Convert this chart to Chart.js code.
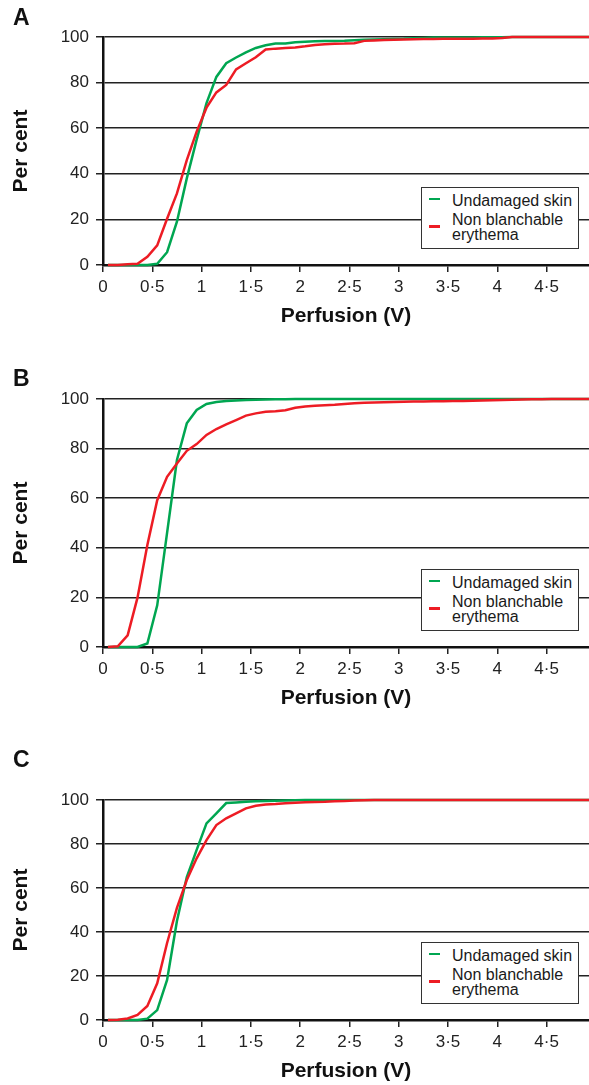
<!DOCTYPE html>
<html>
<head>
<meta charset="utf-8">
<script src="https://cdn.jsdelivr.net/npm/chart.js@4.4.0/dist/chart.umd.min.js"></script>
<style>
html,body{margin:0;padding:0;background:#fff;}
body{width:589px;height:1085px;position:relative;overflow:hidden;font-family:"Liberation Sans",Arial,Helvetica,sans-serif;}
canvas{position:absolute;left:0;}
.letter{position:absolute;left:13px;font-weight:bold;font-size:23px;line-height:23px;color:#111;}
.legend{position:absolute;left:421px;width:156px;height:60px;border:1.5px solid #333;background:#fff;}
.legend .sw{position:absolute;left:7px;width:11px;height:2.5px;}
.legend .tx{position:absolute;left:30px;font-size:16px;line-height:15px;color:#1a1a1a;white-space:nowrap;}
</style>
</head>
<body>
<div id="root"></div>
<script>
// ---------- data ----------
const xValues = [0.05,0.15,0.25,0.35,0.45,0.55,0.65,0.75,0.85,0.95,
                 1.05,1.15,1.25,1.35,1.45,1.55,1.65,1.75,1.85,1.95,
                 2.05,2.15,2.25,2.35,2.45,2.55,2.65,2.75,2.85,2.95,
                 3.05,3.15,3.25,3.35,3.45,3.55,3.65,3.75,3.85,3.95,
                 4.05,4.15,4.25,4.35,4.45,4.55,4.65,4.75,4.85,4.95];
const xTickValues = [0,0.5,1,1.5,2,2.5,3,3.5,4,4.5];
const xTickLabels = ['0','0·5','1','1·5','2','2·5','3','3·5','4','4·5'];
const yTickValues = [0,20,40,60,80,100];
const panelLetters = ['A','B','C'];
const seriesNames = ['Undamaged skin','Non blanchable erythema'];
const xTitle = 'Perfusion (V)';
const yTitle = 'Per cent';

const undamagedA = [0,0,0,0,0,0.5,5.6,19,38,55,
                    71,82.5,88.5,91,93.3,95.2,96.4,97.1,97.2,97.7,
                    97.9,98.1,98.2,98.3,98.4,98.6,98.8,98.9,99.0,99.1,
                    99.2,99.4,99.6,99.8,99.8,99.8,99.8,99.8,99.9,99.9,
                    99.9,100,100,100,100,100,100,100,100,100];
const erythemaA  = [0,0,0.3,0.5,3.6,8.6,20.3,31.4,46,58.5,
                    69,75.7,79,85.8,88.5,91.1,94.5,94.9,95.2,95.4,
                    95.9,96.5,96.8,97.0,97.1,97.3,98.3,98.5,98.7,98.8,
                    98.9,99.0,99.1,99.1,99.2,99.2,99.2,99.2,99.3,99.3,
                    99.6,100,100,100,100,100,100,100,100,100];
const undamagedB = [0,0,0,0,1.4,16.8,46,75.4,90.2,95.6,
                    98.0,98.8,99.2,99.4,99.6,99.7,99.8,99.9,99.9,100,
                    100,100,100,100,100,100,100,100,100,100,
                    100,100,100,100,100,100,100,100,100,100,
                    100,100,100,100,100,100,100,100,100,100];
const erythemaB  = [0,0.3,4.7,19.9,41.1,59.2,68.6,74.0,79.1,81.8,
                    85.5,87.9,89.8,91.5,93.3,94.2,94.9,95.1,95.5,96.5,
                    97.0,97.3,97.5,97.7,98.0,98.3,98.5,98.6,98.7,98.8,
                    98.9,99.0,99.0,99.1,99.1,99.2,99.2,99.3,99.4,99.5,
                    99.6,99.7,99.8,99.9,99.9,100,100,100,100,100];
const undamagedC = [0,0,0,0,0.6,4.5,18.2,45,65,77.3,
                    89.4,93.9,98.6,98.9,99.2,99.4,99.6,99.7,99.8,99.9,
                    100,100,100,100,100,100,100,100,100,100,
                    100,100,100,100,100,100,100,100,100,100,
                    100,100,100,100,100,100,100,100,100,100];
const erythemaC  = [0,0.1,0.7,2.3,6.4,16.7,35,51,63.6,73.5,
                    81.8,88.6,91.7,93.9,96.2,97.4,98.0,98.2,98.5,98.8,
                    99.0,99.1,99.2,99.4,99.6,99.8,99.9,100,100,100,
                    100,100,100,100,100,100,100,100,100,100,
                    100,100,100,100,100,100,100,100,100,100];

// ---------- layout / style ----------
const GREEN = '#00a651';
const RED = '#ed1c24';
const FAMILY = '"Liberation Sans", Arial, Helvetica, sans-serif';
const X_MAX = 4.93;

const panels = [
  {letter: panelLetters[0], green: undamagedA, red: erythemaA, top: 0,   padTop: 37, plotH: 228, axisH: 70, titlePB: 6, letterTop: 6},
  {letter: panelLetters[1], green: undamagedB, red: erythemaB, top: 335, padTop: 64, plotH: 248, axisH: 70, titlePB: 6, letterTop: 367},
  {letter: panelLetters[2], green: undamagedC, red: erythemaC, top: 717, padTop: 83, plotH: 220, axisH: 65, titlePB: 1, letterTop: 748}
];

const root = document.getElementById('root');

panels.forEach(p => {
  const h = p.padTop + p.plotH + p.axisH;
  const cv = document.createElement('canvas');
  cv.width = 589; cv.height = h;
  cv.style.width = '589px'; cv.style.height = h + 'px';
  cv.style.top = p.top + 'px';
  root.appendChild(cv);

  const lt = document.createElement('div');
  lt.className = 'letter';
  lt.style.top = p.letterTop + 'px';
  lt.textContent = p.letter;
  root.appendChild(lt);

  new Chart(cv, {
    type: 'line',
    data: {
      datasets: [
        {label: seriesNames[0], data: xValues.map((x, i) => ({x: x, y: p.green[i]})),
         borderColor: GREEN, backgroundColor: GREEN, borderWidth: 2.5, pointRadius: 0,
         tension: 0, fill: false, order: 1, clip: false},
        {label: seriesNames[1], data: xValues.map((x, i) => ({x: x, y: p.red[i]})),
         borderColor: RED, backgroundColor: RED, borderWidth: 2.5, pointRadius: 0,
         tension: 0, fill: false, order: 0, clip: false}
      ]
    },
    options: {
      responsive: false,
      animation: false,
      devicePixelRatio: 1,
      layout: {padding: {top: p.padTop, left: 0, right: 0, bottom: 0}},
      plugins: {legend: {display: false}, tooltip: {enabled: false}},
      scales: {
        x: {
          type: 'linear', min: 0, max: X_MAX,
          afterBuildTicks: s => { s.ticks = xTickValues.map(v => ({value: v})); },
          afterFit: s => { s.height = p.axisH; },
          ticks: {
            callback: v => xTickLabels[xTickValues.indexOf(v)],
            font: {size: 17, family: FAMILY}, color: '#222', padding: 5,
            maxRotation: 0, autoSkip: false, includeBounds: false
          },
          grid: {drawOnChartArea: false, drawTicks: true, tickLength: 7,
                 tickColor: '#222', tickWidth: 1.5, color: '#222', lineWidth: 1.5},
          border: {display: true, color: '#111', width: 2.5},
          title: {display: true, text: xTitle, color: '#111',
                  font: {size: 21, weight: 'bold', family: FAMILY},
                  padding: {top: 0, bottom: p.titlePB}}
        },
        y: {
          type: 'linear', min: 0, max: 100,
          afterBuildTicks: s => { s.ticks = yTickValues.map(v => ({value: v})); },
          afterFit: s => { s.width = 103; },
          ticks: {font: {size: 17, family: FAMILY}, color: '#222', padding: 7},
          grid: {color: '#222', lineWidth: 1.5, drawTicks: true, tickLength: 7,
                 tickColor: '#222', tickWidth: 1.5},
          border: {display: true, color: '#111', width: 2.5},
          title: {display: true, text: yTitle, color: '#111',
                  font: {size: 21, weight: 'bold', family: FAMILY},
                  padding: {top: 9, bottom: 0}}
        }
      }
    }
  });

  // legend box (HTML text), placed inside plot area near the bottom right
  const axisY = p.top + p.padTop + p.plotH;
  const lg = document.createElement('div');
  lg.className = 'legend';
  lg.style.top = (axisY - 78) + 'px';
  lg.innerHTML =
    '<div class="sw" style="top:9.5px;background:' + GREEN + '"></div>' +
    '<div class="tx" style="top:4.5px">' + seriesNames[0] + '</div>' +
    '<div class="sw" style="top:37px;background:' + RED + '"></div>' +
    '<div class="tx" style="top:23.5px">Non blanchable<br>erythema</div>';
  root.appendChild(lg);
});
</script>
</body>
</html>
